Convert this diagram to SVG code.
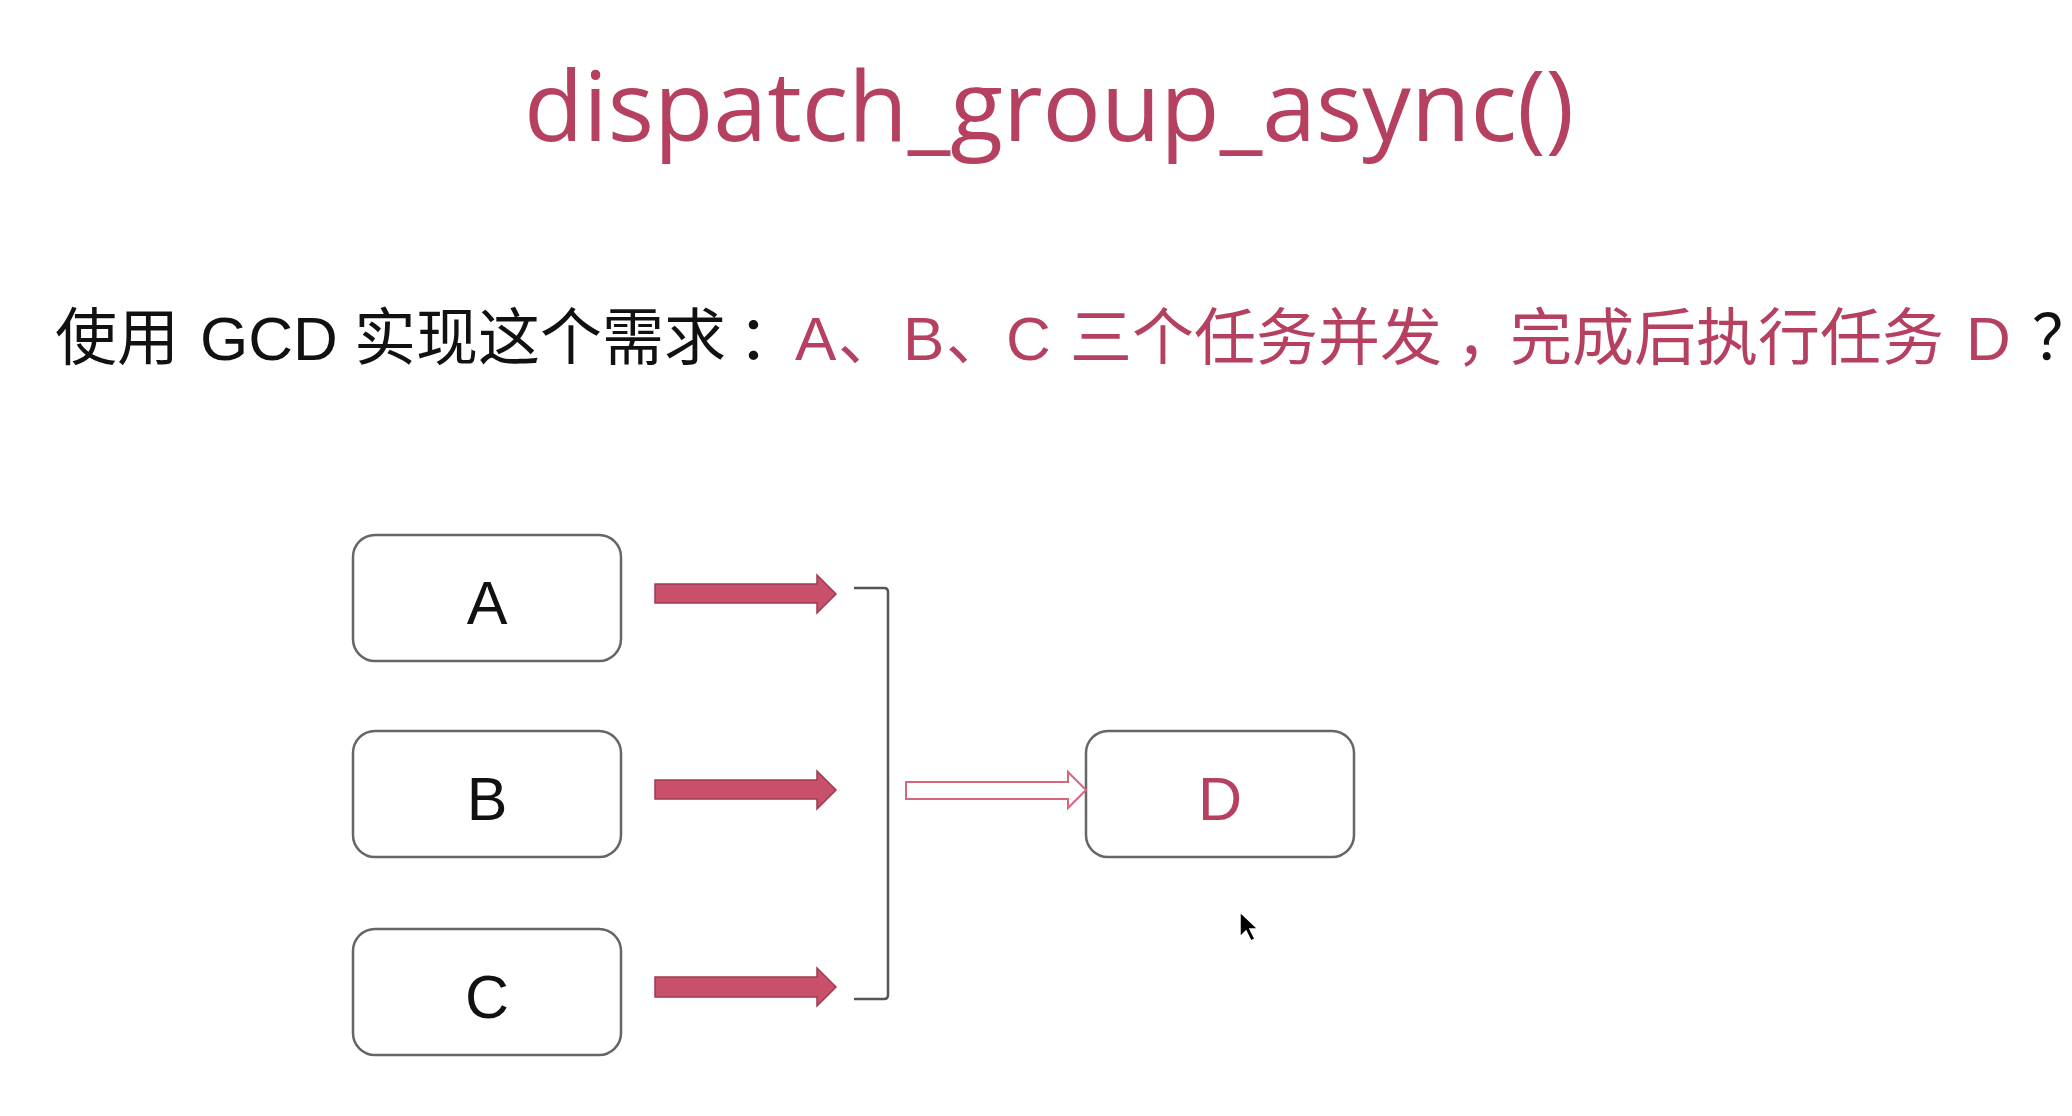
<svg xmlns="http://www.w3.org/2000/svg" width="2072" height="1116" viewBox="0 0 2072 1116">
<style>
.title{font-family:"Open Sans","Noto Sans",sans-serif;font-size:97px;fill:#b6405f}
.sub{font-family:"Liberation Sans","Noto Sans CJK SC",sans-serif;font-size:62px;fill:#111}
.box{fill:#fff;stroke:#666;stroke-width:2.5}
.lbl{font-family:"Liberation Sans",Arial,sans-serif;font-size:61px;fill:#111;text-anchor:middle}
.red{fill:#b6405f}
.fat{fill:#c8506a;stroke:#9e3a52;stroke-width:1.5}
.hollow{fill:#fff;stroke:#d5667e;stroke-width:2}
.brk{fill:none;stroke:#555;stroke-width:2.5}
</style>
<rect width="2072" height="1116" fill="#fff"/>
<text class="title" x="1049" y="141" text-anchor="middle">dispatch_group_async()</text>
<text class="sub" y="360"><tspan x="55">使用</tspan><tspan x="200">GCD</tspan><tspan x="354">实现这个需求</tspan><tspan x="738">：</tspan><tspan class="red" x="795">A</tspan><tspan class="red" x="838">、</tspan><tspan class="red" x="903">B</tspan><tspan class="red" x="946">、</tspan><tspan class="red" x="1006">C</tspan><tspan class="red" x="1070">三个任务并发</tspan><tspan class="red" x="1456">，</tspan><tspan class="red" x="1510">完成后执行任务</tspan><tspan class="red" x="1966">D</tspan><tspan x="2032">？</tspan></text>
<g id="node-A"><rect class="box" x="353" y="535" width="268" height="126" rx="22"/><text class="lbl" x="487" y="624">A</text></g>
<g id="node-B"><rect class="box" x="353" y="731" width="268" height="126" rx="22"/><text class="lbl" x="487" y="820">B</text></g>
<g id="node-C"><rect class="box" x="353" y="929" width="268" height="126" rx="22"/><text class="lbl" x="487" y="1018">C</text></g>
<g id="node-D"><rect class="box" x="1086" y="731" width="268" height="126" rx="22"/><text class="lbl red" x="1220" y="820">D</text></g>
<g id="connectors">
<polygon class="fat" points="655,584 817,584 817,575 836,594 817,613 817,603 655,603"/>
<polygon class="fat" points="655,780 817,780 817,771 836,790 817,809 817,799 655,799"/>
<polygon class="fat" points="655,977 817,977 817,968 836,987 817,1006 817,997 655,997"/>
<path class="brk" d="M854,588 L884,588 Q888,588 888,592 L888,995 Q888,999 884,999 L854,999"/>
<polygon class="hollow" points="906,782 1068,782 1068,772 1086,790 1068,808 1068,799 906,799"/>
</g>
<polygon points="1240,912 1240,937 1246,931 1251,941 1255,939 1250,929 1258,929" fill="#000" stroke="#fff" stroke-width="1.5"/>
</svg>
